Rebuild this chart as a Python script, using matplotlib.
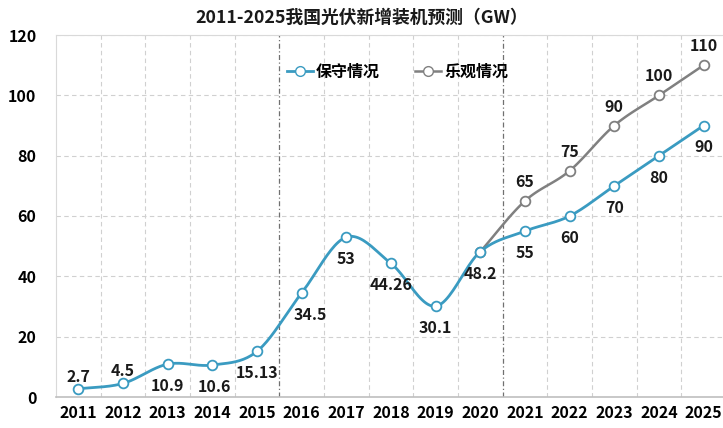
import numpy as np
import matplotlib.pyplot as plt

plt.rcParams['font.family'] = ['Noto Sans CJK SC', 'DejaVu Sans']

years = list(range(2011, 2026))
conservative = [2.7, 4.5, 10.9, 10.6, 15.13, 34.5, 53, 44.26, 30.1, 48.2, 55, 60, 70, 80, 90]
conservative_labels = ['2.7', '4.5', '10.9', '10.6', '15.13', '34.5', '53', '44.26', '30.1',
                       '48.2', '55', '60', '70', '80', '90']
optimistic_years = list(range(2020, 2026))
optimistic = [48.2, 65, 75, 90, 100, 110]
optimistic_labels = ['65', '75', '90', '100', '110']
y_ticks = [0, 20, 40, 60, 80, 100, 120]

BLUE = '#3a9bc1'
GREY = '#808080'


def smooth(xs, ys, n=24):
    # Catmull-Rom curve through the points, like Excel's smoothed line
    xs = np.asarray(xs, float)
    ys = np.asarray(ys, float)
    px = np.concatenate([[2 * xs[0] - xs[1]], xs, [2 * xs[-1] - xs[-2]]])
    py = np.concatenate([[2 * ys[0] - ys[1]], ys, [2 * ys[-1] - ys[-2]]])
    out_x, out_y = [], []
    t = np.linspace(0, 1, n)
    for i in range(1, len(px) - 2):
        for p, out in ((px, out_x), (py, out_y)):
            p0, p1, p2, p3 = p[i - 1], p[i], p[i + 1], p[i + 2]
            out.extend(0.5 * ((2 * p1) + (-p0 + p2) * t
                              + (2 * p0 - 5 * p1 + 4 * p2 - p3) * t ** 2
                              + (-p0 + 3 * p1 - 3 * p2 + p3) * t ** 3))
    return out_x, out_y


fig = plt.figure(figsize=(7.23, 4.28), dpi=100)
ax = fig.add_axes([56 / 723, 1 - 397 / 428, 670 / 723, 362 / 428])

# grid
for y in y_ticks[1:]:
    ax.axhline(y, color='#d0d0d0', lw=0.8, ls=(0, (4, 3)), zorder=0)
for i in range(len(years) - 1):
    xb = years[i] + 0.5
    if xb in (2015.5, 2020.5):
        ax.axvline(xb, color='#707070', lw=0.9, ls=(0, (4, 2, 1, 2)), zorder=1)
    else:
        ax.axvline(xb, color='#d0d0d0', lw=0.8, ls=(0, (4, 3)), zorder=0)

sx, sy = smooth(optimistic_years, optimistic)
ax.plot(sx, sy, color=GREY, lw=1.8, zorder=3)
ax.plot(optimistic_years, optimistic, ls='none', marker='o', ms=7, mfc='white',
        mec=GREY, mew=1.3, zorder=4)
sx, sy = smooth(years, conservative)
ax.plot(sx, sy, color=BLUE, lw=2, zorder=3)
ax.plot(years, conservative, ls='none', marker='o', ms=7, mfc='white',
        mec=BLUE, mew=1.3, zorder=5)

# legend
ax.plot([], [], color=BLUE, lw=2, marker='o', ms=7, mfc='white', mec=BLUE, label='保守情况')
ax.plot([], [], color=GREY, lw=1.8, marker='o', ms=7, mfc='white', mec=GREY, label='乐观情况')
ax.legend(loc='center', bbox_to_anchor=(0.51, 0.898), ncol=2, frameon=False,
          prop={'weight': 'bold', 'size': 11.5}, handlelength=1.6, handletextpad=0.2,
          columnspacing=2.2)

# data labels (offsets in pixels -> points)
above = {2011: 12, 2012: 12}
offsets_x = {2014: 2, 2016: 9}
for yr, v, lab in zip(years, conservative, conservative_labels):
    dy = above.get(yr, -22)
    ax.annotate(lab, (yr, v), xytext=(offsets_x.get(yr, 0) * 0.72, dy * 0.72),
                textcoords='offset points', ha='center', va='center',
                fontsize=11.5, fontweight='bold', color='#1a1a1a', zorder=6)
for yr, v, lab in zip(optimistic_years[1:], optimistic[1:], optimistic_labels):
    ax.annotate(lab, (yr, v), xytext=(0, 19 * 0.72), textcoords='offset points',
                ha='center', va='center', fontsize=11.5, fontweight='bold',
                color='#1a1a1a', zorder=6)

ax.set_xlim(2010.5, 2025.5)
ax.set_ylim(0, 120)
ax.set_xticks(years)
ax.set_xticklabels([str(y) for y in years], fontsize=11.5, fontweight='bold')
ax.set_yticks(y_ticks)
ax.set_yticklabels([str(y) for y in y_ticks], fontsize=11.5, fontweight='bold')
ax.tick_params(length=0, pad=6)
ax.tick_params(axis='y', pad=14)
for s in ('left', 'top'):
    ax.spines[s].set_color('#d9d9d9')
ax.spines['right'].set_visible(False)
ax.spines['bottom'].set_color('#bfbfbf')
ax.spines['bottom'].set_linewidth(1.2)

fig.text(0.5, 1 - 18 / 428, '2011-2025我国光伏新增装机预测（GW）', ha='center', va='center',
         fontsize=12.8, fontweight='bold', color='#1a1a1a')

fig.savefig('out.png', dpi=100)
